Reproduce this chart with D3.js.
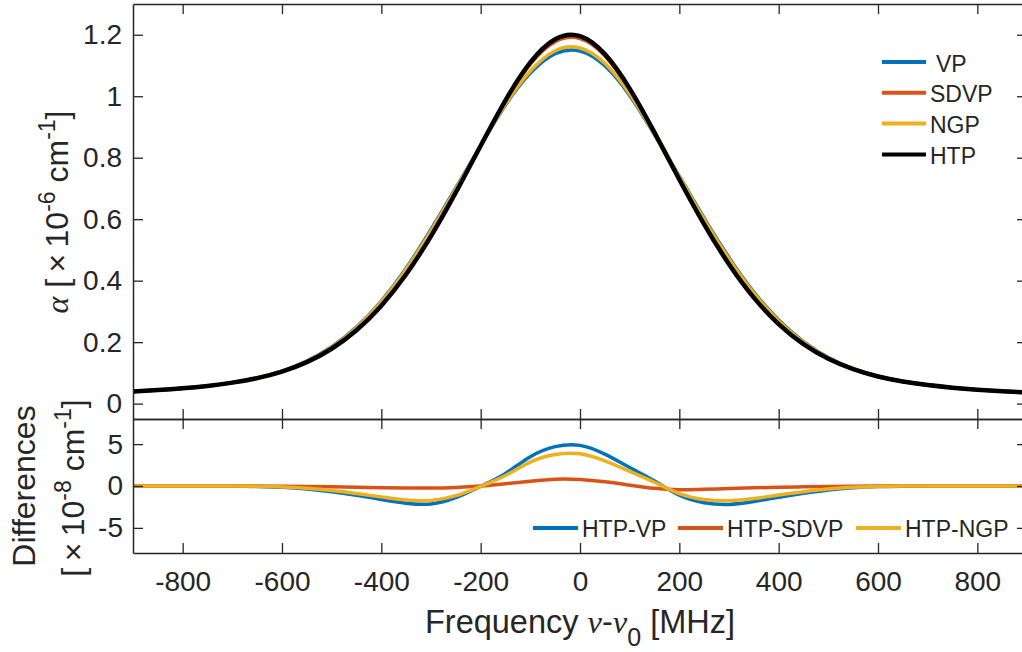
<!DOCTYPE html>
<html><head><meta charset="utf-8">
<script src="https://cdn.jsdelivr.net/npm/d3@7"></script>
<style>
body{margin:0;background:#fff;}
svg{display:block;}
text{font-family:"Liberation Sans",Arial,Helvetica,sans-serif;fill:#262626;}
.serif{font-family:"Liberation Serif","Times New Roman",serif;font-style:italic;}
</style></head><body>
<svg id="chart" width="1022" height="652"></svg>
<script>
// ---- data ----
const freq = [-900,-850,-800,-750,-700,-650,-600,-550,-500,-450,-400,-350,-300,-250,-200,-150,-100,-50,0,50,100,150,200,250,300,350,400,450,500,550,600,650,700,750,800,850,900];
const HTP  = [0.0392,0.0440,0.0499,0.0577,0.0683,0.0831,0.1044,0.1350,0.1786,0.2385,0.3186,0.4208,0.5450,0.6870,0.8390,0.9867,1.1100,1.1855,1.1954,1.1369,1.0246,0.8815,0.7292,0.5832,0.4535,0.3449,0.2587,0.1933,0.1458,0.1120,0.0883,0.0719,0.0604,0.0519,0.0455,0.0404,0.0363];
const VP   = [0.0392,0.0440,0.0499,0.0577,0.0683,0.0836,0.1059,0.1385,0.1851,0.2490,0.3336,0.4403,0.5665,0.7015,0.8395,0.9717,1.0750,1.1385,1.1469,1.0989,1.0026,0.8755,0.7402,0.6032,0.4750,0.3629,0.2717,0.2018,0.1503,0.1140,0.0890,0.0721,0.0604,0.0519,0.0455,0.0404,0.0363];
const SDVP = [0.0392,0.0440,0.0499,0.0577,0.0683,0.0832,0.1047,0.1356,0.1796,0.2400,0.3206,0.4232,0.5475,0.6888,0.8390,0.9839,1.1042,1.1773,1.1876,1.1319,1.0236,0.8843,0.7337,0.5872,0.4565,0.3471,0.2602,0.1943,0.1464,0.1123,0.0884,0.0719,0.0604,0.0519,0.0455,0.0404,0.0363];
const NGP  = [0.0392,0.0440,0.0499,0.0577,0.0683,0.0835,0.1056,0.1378,0.1838,0.2470,0.3308,0.4368,0.5622,0.6990,0.8395,0.9742,1.0815,1.1480,1.1569,1.1069,1.0071,0.8770,0.7382,0.5992,0.4707,0.3594,0.2692,0.2001,0.1494,0.1136,0.0889,0.0720,0.0604,0.0519,0.0455,0.0404,0.0363];
const diffVP   = [0,0,0,0,0,-0.05,-0.15,-0.35,-0.68,-1.1,-1.6,-2.05,-2.15,-1.4,-0.05,1.5,3.5,4.7,4.85,3.8,2.2,0.6,-1.1,-2.0,-2.2,-1.85,-1.35,-0.88,-0.47,-0.2,-0.07,-0.02,0,0,0,0,0];
const diffSDVP = [0,0,0,0,0,-0.01,-0.03,-0.06,-0.1,-0.15,-0.2,-0.24,-0.25,-0.18,0,0.28,0.58,0.82,0.78,0.5,0.1,-0.28,-0.45,-0.4,-0.3,-0.22,-0.15,-0.1,-0.06,-0.03,-0.01,0,0,0,0,0,0];
const diffNGP  = [0,0,0,0,0,-0.04,-0.12,-0.28,-0.55,-0.9,-1.3,-1.68,-1.72,-1.15,-0.05,1.25,2.85,3.75,3.85,3.0,1.75,0.45,-0.9,-1.6,-1.75,-1.5,-1.08,-0.7,-0.37,-0.16,-0.06,-0.01,0,0,0,0,0];
const xTicks = [-800,-600,-400,-200,0,200,400,600,800];
const xTickLabels = ["-800","-600","-400","-200","0","200","400","600","800"];
const yTopTicks = [0,0.2,0.4,0.6,0.8,1,1.2];
const yTopTickLabels = ["0","0.2","0.4","0.6","0.8","1","1.2"];
const yBotTicks = [-5,0,5];
const yBotTickLabels = ["-5","0","5"];
const topNames = ["VP","SDVP","NGP","HTP"];
const botNames = ["HTP-VP","HTP-SDVP","HTP-NGP"];

// ---- layout ----
const svg = d3.select("#chart");
const L=133, R=1027, T1=4, B1=419, T2=419, B2=553;
const ink="#262626";
const colors={VP:"#0072BD",SDVP:"#D95319",NGP:"#EDB120",HTP:"#000000"};
const x = d3.scaleLinear().domain([-900,900]).range([L,R]);
const y1 = d3.scaleLinear().domain([-0.05,1.3]).range([B1,T1]);
const y2 = d3.scaleLinear().domain([-8,8]).range([B2,T2]);

const defs=svg.append("defs");
defs.append("clipPath").attr("id","c1").append("rect").attr("x",L).attr("y",T1).attr("width",R-L).attr("height",B1-T1);
defs.append("clipPath").attr("id","c2").append("rect").attr("x",L).attr("y",T2).attr("width",R-L).attr("height",B2-T2);

// curves top
const topSeries={VP,SDVP,NGP,HTP};
const g1=svg.append("g").attr("clip-path","url(#c1)");
topNames.forEach(n=>{
  const line=d3.line().x((d,i)=>x(freq[i])).y(d=>y1(d)).curve(d3.curveNatural);
  g1.append("path").attr("d",line(topSeries[n])).attr("fill","none")
    .attr("stroke",colors[n]).attr("stroke-width",n==="HTP"?4.5:3.5).attr("stroke-linejoin","round");
});
// curves bottom
const botSeries={"HTP-VP":diffVP,"HTP-SDVP":diffSDVP,"HTP-NGP":diffNGP};
const botColors={"HTP-VP":colors.VP,"HTP-SDVP":colors.SDVP,"HTP-NGP":colors.NGP};
const g2=svg.append("g").attr("clip-path","url(#c2)");
botNames.forEach(n=>{
  const line=d3.line().x((d,i)=>x(freq[i])).y(d=>y2(d)).curve(d3.curveNatural);
  g2.append("path").attr("d",line(botSeries[n])).attr("fill","none")
    .attr("stroke",botColors[n]).attr("stroke-width",3.5).attr("stroke-linejoin","round");
});

// axes
function style(g,fs){
  g.select(".domain").attr("stroke",ink).attr("stroke-width",1.5);
  g.selectAll(".tick line").attr("stroke",ink).attr("stroke-width",1.3);
  g.selectAll(".tick text").attr("fill",ink).style("font-size",fs+"px").style("font-family",'"Liberation Sans",Arial,sans-serif');
}
const tl=10;
// top panel
svg.append("g").attr("transform",`translate(${L},0)`)
  .call(d3.axisLeft(y1).tickValues(yTopTicks).tickFormat((d,i)=>yTopTickLabels[i]).tickSizeInner(-tl).tickSizeOuter(0).tickPadding(11))
  .call(g=>style(g,28));
svg.append("g").attr("transform",`translate(${R},0)`)
  .call(d3.axisRight(y1).tickValues(yTopTicks).tickFormat("").tickSizeInner(-tl).tickSizeOuter(0)).call(g=>style(g,28));
svg.append("g").attr("transform",`translate(0,${T1})`)
  .call(d3.axisTop(x).tickValues(xTicks).tickFormat("").tickSizeInner(-tl).tickSizeOuter(0)).call(g=>style(g,28));
svg.append("g").attr("transform",`translate(0,${B1})`)
  .call(d3.axisBottom(x).tickValues(xTicks).tickFormat("").tickSizeInner(-tl).tickSizeOuter(0)).call(g=>style(g,28));
// bottom panel
svg.append("g").attr("transform",`translate(${L},0)`)
  .call(d3.axisLeft(y2).tickValues(yBotTicks).tickFormat((d,i)=>yBotTickLabels[i]).tickSizeInner(-tl).tickSizeOuter(0).tickPadding(10))
  .call(g=>style(g,28));
svg.append("g").attr("transform",`translate(${R},0)`)
  .call(d3.axisRight(y2).tickValues(yBotTicks).tickFormat("").tickSizeInner(-tl).tickSizeOuter(0)).call(g=>style(g,28));
svg.append("g").attr("transform",`translate(0,${T2})`)
  .call(d3.axisTop(x).tickValues(xTicks).tickFormat("").tickSizeInner(-tl).tickSizeOuter(0)).call(g=>style(g,28));
svg.append("g").attr("transform",`translate(0,${B2})`)
  .call(d3.axisBottom(x).tickValues(xTicks).tickFormat((d,i)=>xTickLabels[i]).tickSizeInner(-tl).tickSizeOuter(0).tickPadding(18))
  .call(g=>style(g,28));

// legend top
const lg1=svg.append("g");
topNames.forEach((n,i)=>{
  const yy=62+i*30.8;
  lg1.append("line").attr("x1",882).attr("x2",926).attr("y1",yy).attr("y2",yy)
    .attr("stroke",colors[n]).attr("stroke-width",4);
  lg1.append("text").attr("x",n==="VP"?936:930).attr("y",yy+9.5).style("font-size","23px").attr("fill","#000").text(n);
});
// legend bottom
const lgX=[533,678,856];
const lg2=svg.append("g");
botNames.forEach((n,i)=>{
  lg2.append("line").attr("x1",lgX[i]).attr("x2",lgX[i]+45).attr("y1",528).attr("y2",528)
    .attr("stroke",botColors[n]).attr("stroke-width",4);
  lg2.append("text").attr("x",lgX[i]+49).attr("y",537).style("font-size","23px").attr("fill","#000").text(n);
});

// axis titles
const xl=svg.append("text").attr("x",580).attr("y",633).attr("text-anchor","middle").style("font-size","32.5px");
xl.append("tspan").text("Frequency ");
xl.append("tspan").attr("class","serif").text("ν");
xl.append("tspan").text("-");
xl.append("tspan").attr("class","serif").text("ν");
xl.append("tspan").attr("dy",13).style("font-size","25px").text("0");
xl.append("tspan").attr("dy",-13).text(" [MHz]");

const yl=svg.append("text").attr("transform","translate(68,212) rotate(-90)").attr("text-anchor","middle").style("font-size","32px");
yl.append("tspan").attr("class","serif").text("α");
yl.append("tspan").text(" [\u2009×\u200910");
yl.append("tspan").attr("dy",-13).style("font-size","23px").text("-6");
yl.append("tspan").attr("dy",13).text(" cm");
yl.append("tspan").attr("dy",-13).style("font-size","23px").text("-1");
yl.append("tspan").attr("dy",13).text("]");

svg.append("text").attr("transform","translate(35,486) rotate(-90)").attr("text-anchor","middle").style("font-size","32px").text("Differences");
const yl2=svg.append("text").attr("transform","translate(84,488) rotate(-90)").attr("text-anchor","middle").style("font-size","32px");
yl2.append("tspan").text("[\u2009×\u200910");
yl2.append("tspan").attr("dy",-13).style("font-size","23px").text("-8");
yl2.append("tspan").attr("dy",13).text(" cm");
yl2.append("tspan").attr("dy",-13).style("font-size","23px").text("-1");
yl2.append("tspan").attr("dy",13).text("]");
</script>
</body></html>
